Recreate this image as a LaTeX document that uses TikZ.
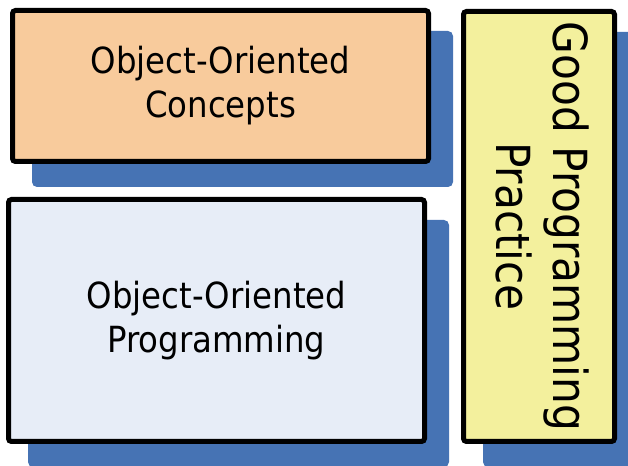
\documentclass[tikz,border=0pt]{standalone}
\usepackage{fontspec}
\setmainfont{DejaVu Sans Condensed}
\usetikzlibrary{shapes,shadows}

\definecolor{shadowblue}{HTML}{4673B4}
\definecolor{conceptfill}{HTML}{F8CB9C}
\definecolor{progfill}{HTML}{E7EDF7}
\definecolor{practicefill}{HTML}{F3F09D}

\begin{document}
\begin{tikzpicture}[
  x=1pt, y=1pt,
  box/.style={rectangle, rounded corners=3pt, draw=black, line width=5pt, align=center,
    drop shadow={shadow xshift=22pt, shadow yshift=-23pt, opacity=1, fill=shadowblue, draw=shadowblue, line width=5pt},
    font=\fontsize{36}{44}\selectfont},
  sidetext/.style={align=center, rotate=-90, font=\fontsize{47}{57}\selectfont}
]
\useasboundingbox (0,0) rectangle (628,465);
\clip (0,0) rectangle (628,465);

% Boxes
\node[box, fill=conceptfill, minimum width=416pt, minimum height=151pt] (concepts) at (220.5,379) {Object-Oriented\\Concepts};
\node[box, fill=progfill, minimum width=416pt, minimum height=242pt] (oop) at (216.5,144.5) {Object-Oriented\\Programming};
\node[box, fill=practicefill, minimum width=151pt, minimum height=430pt] (practice) at (539,238.5) {};

% Rotated label
\node[sidetext] (practicelabel) at ([xshift=4pt]practice.center) {Good Programming\\Practice};

\end{tikzpicture}
\end{document}
